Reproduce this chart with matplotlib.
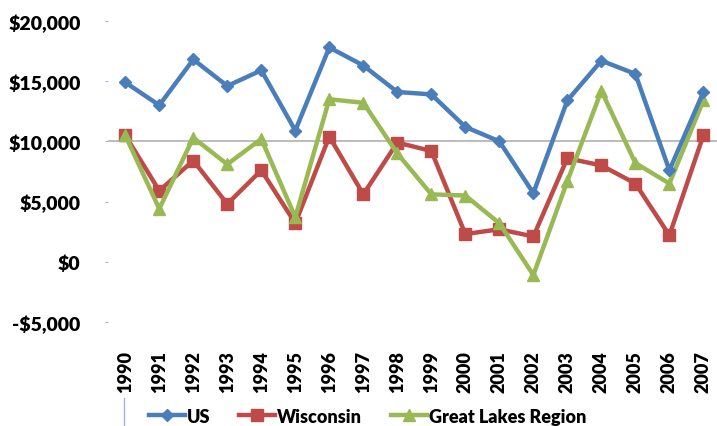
import matplotlib.pyplot as plt
from matplotlib.lines import Line2D

plt.rcParams['font.family'] = ['Lato', 'DejaVu Sans']

years = [str(y) for y in range(1990, 2008)]
us = [14900, 13000, 16800, 14600, 15900, 10900, 17800, 16300, 14100,
      13900, 11200, 10000, 5700, 13400, 16700, 15600, 7600, 14100]
wisconsin = [10500, 5900, 8400, 4800, 7600, 3200, 10400, 5600, 9900,
             9200, 2300, 2700, 2100, 8600, 8000, 6500, 2200, 10500]
great_lakes = [10500, 4400, 10300, 8100, 10200, 3700, 13500, 13200, 9000,
               5600, 5500, 3200, -1100, 6700, 14200, 8200, 6500, 13400]
yticks = [-5000, 0, 5000, 10000, 15000, 20000]
ytick_labels = ['-$5,000', '$0', '$5,000', '$10,000', '$15,000', '$20,000']

fig = plt.figure(figsize=(7.17, 4.27), dpi=100)
ax = fig.add_axes([0.151, 0.2436, 0.849, 0.705])

x = range(len(years))
ax.axhline(10000, color='#b0b0b0', lw=1.2, zorder=1)
ax.plot(x, us, color='#4A7EBB', lw=3.2, marker='D', ms=6, label='US', zorder=3)
ax.plot(x, wisconsin, color='#BE4B48', lw=3.2, marker='s', ms=8, label='Wisconsin', zorder=2)
ax.plot(x, great_lakes, color='#98B954', lw=3.2, marker='^', ms=9, label='Great Lakes Region', zorder=2)

ax.set_xlim(-0.5, 17.4)
ax.set_ylim(-5000, 20000)
ax.set_yticks(yticks)
ax.set_yticklabels(ytick_labels, fontsize=14, fontweight='heavy')
ax.set_xticks(list(x))
ax.set_xticklabels(years, rotation=90, fontsize=13, fontweight='heavy')
ax.tick_params(axis='y', length=2, color='#9ab8dc', pad=18)
ax.tick_params(axis='x', length=0, pad=20)
for s in ax.spines.values():
    s.set_visible(False)

fig.legend(loc='lower left', bbox_to_anchor=(0.185, -0.035), ncol=3, frameon=False,
           prop={'weight': 'heavy', 'size': 13}, handlelength=2.0, handletextpad=0.1,
           columnspacing=1.6)
fig.add_artist(Line2D([0.173, 0.173], [0.0, 0.065], color='#9ab8dc', lw=1))

fig.savefig('out.png', dpi=100)
